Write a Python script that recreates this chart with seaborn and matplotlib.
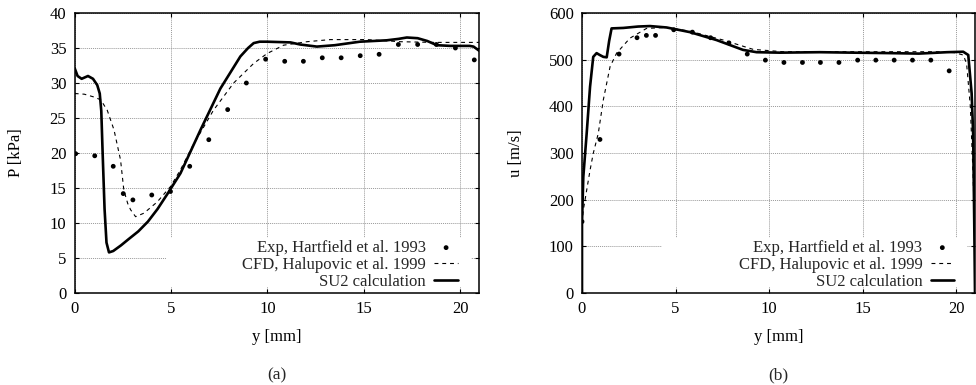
import numpy as np
import pandas as pd
import matplotlib
matplotlib.use("Agg")
import matplotlib.pyplot as plt
from matplotlib.patches import Rectangle
import seaborn as sns

# ---------------- data ----------------
# Panel (a): pressure
exp_p_y = [0.05, 1.04, 2.0, 2.52, 3.02, 4.0, 4.97, 5.97, 6.96, 7.94, 8.91, 9.91,
           10.9, 11.87, 12.85, 13.83, 14.82, 15.8, 16.8, 17.8, 18.77, 19.76, 20.74]
exp_p = [19.9, 19.6, 18.1, 14.2, 13.3, 14.0, 14.5, 18.1, 21.9, 26.2, 30.0, 33.4,
         33.1, 33.1, 33.6, 33.6, 33.9, 34.1, 35.5, 35.5, 35.5, 35.0, 33.3]

cfd_p_y = [0, 0.5, 1.0, 1.35, 1.69, 2.04, 2.38, 2.55, 2.75, 2.9, 3.16, 3.59, 4.28,
           4.97, 5.49, 6.1, 7.2, 8.25, 9.29, 9.98, 10.84, 12.06, 13.26, 15.16,
           16.9, 18.6, 21.0]
cfd_p = [28.5, 28.4, 28.0, 27.6, 26.1, 23.3, 19.0, 14.7, 12.8, 11.9, 10.9, 11.4,
         13.0, 15.2, 17.6, 20.9, 26.1, 30.0, 32.8, 34.2, 35.4, 35.9, 36.2, 36.2,
         35.9, 35.8, 35.8]

su2_p_y = [0, 0.15, 0.36, 0.69, 0.95, 1.17, 1.3, 1.38, 1.45, 1.55, 1.65, 1.78,
           2.0, 2.4, 2.8, 3.3, 3.8, 4.3, 4.8, 5.49, 6.53, 7.56, 8.6, 9.0,
           9.29, 9.6, 9.98, 11.2, 11.7, 12.57, 13.5, 14.8, 16.2, 16.8, 17.24,
           17.8, 18.3, 18.8, 19.5, 20.5, 20.7, 21.0]
su2_p = [32.1, 31.0, 30.6, 31.0, 30.6, 29.7, 28.5, 26.0, 20.0, 12.0, 7.2, 5.8,
         6.0, 6.8, 7.7, 8.8, 10.2, 12.0, 14.1, 17.1, 23.3, 29.2, 33.8, 35.0,
         35.7, 35.9, 35.9, 35.8, 35.5, 35.2, 35.4, 35.9, 36.1, 36.3, 36.5,
         36.4, 36.0, 35.4, 35.3, 35.3, 35.2, 34.6]

# Panel (b): velocity
exp_u_y = [0, 0.96, 1.98, 2.94, 3.44, 3.93, 4.9, 5.9, 6.87, 7.85, 8.83, 9.8,
           10.79, 11.78, 12.74, 13.73, 14.73, 15.7, 16.68, 17.66, 18.64, 19.62]
exp_u = [153, 329, 512, 547, 552, 552, 564, 559, 547, 536, 512, 499,
         494, 494, 494, 494, 499, 499, 499, 499, 499, 476]

cfd_u_y = [0, 0.07, 0.16, 0.43, 0.6, 0.87, 1.14, 1.5, 1.85, 2.56, 3.45, 4.52,
           5.77, 7.55, 9.15, 10.75, 13.0, 16.0, 19.0, 19.9, 20.37, 20.55,
           20.75, 20.9, 21.0]
cfd_u = [150, 178, 199, 263, 299, 342, 414, 485, 514, 546, 567, 569,
         561, 542, 522, 517, 517, 517, 517, 515, 510, 492, 400, 250, 100]

su2_u_y = [0, 0, 0.07, 0.25, 0.43, 0.6, 0.78, 0.95, 1.14, 1.32, 1.45, 1.58,
           2.21, 3.0, 3.63, 4.52, 5.77, 7.19, 8.6, 9.33, 10.58, 12.7, 14.5,
           16.5, 18.0, 19.5, 20.37, 20.64, 20.82, 20.9, 20.96, 21.0]
su2_u = [0, 150, 249, 342, 442, 506, 514, 510, 506, 505, 540, 567,
         568, 571, 572, 569, 559, 542, 521, 516, 515, 516, 515,
         514, 513, 516, 517, 510, 428, 342, 150, 0]

x_ticks = [0, 5, 10, 15, 20]
p_ticks = [0, 5, 10, 15, 20, 25, 30, 35, 40]
u_ticks = [0, 100, 200, 300, 400, 500, 600]

lab_exp = "Exp, Hartfield et al. 1993"
lab_cfd = "CFD, Halupovic et al. 1999"
lab_su2 = "SU2 calculation"

# ---------------- style ----------------
sns.set_theme(style="ticks")
plt.rcParams["font.family"] = ["Liberation Serif", "DejaVu Serif"]
plt.rcParams["font.size"] = 12

fig = plt.figure(figsize=(9.76, 3.85), dpi=100)
ax1 = fig.add_axes([74.7 / 976, 92 / 385, 404.6 / 976, 280 / 385])
ax2 = fig.add_axes([582 / 976, 92 / 385, 393 / 976, 280 / 385])


def draw(ax, ex, ey, cx, cy, sx, sy, ymax, yticks, ylabel, sub, ylab_x, key_x0):
    ax.set_axisbelow(True)
    sns.scatterplot(x=ex, y=ey, ax=ax, color="black", s=12, edgecolor="none",
                    label=lab_exp, zorder=3)
    sns.lineplot(x=cx, y=cy, ax=ax, color="black", lw=0.8,
                 linestyle=(0, (3.5, 3.5)), sort=False, estimator=None,
                 label=lab_cfd, zorder=3)
    sns.lineplot(x=sx, y=sy, ax=ax, color="black", lw=1.9, sort=False,
                 estimator=None, label=lab_su2, zorder=4)
    ax.set_xlim(0, 21)
    ax.set_ylim(0, ymax)
    ax.set_xticks(x_ticks)
    ax.set_yticks(yticks)
    ax.grid(True, color="#999999", linestyle=(0, (1, 1)), lw=0.7)
    for s in ax.spines.values():
        s.set_visible(True)
        s.set_color("black")
        s.set_linewidth(1.1)
    ax.tick_params(direction="in", length=3, width=0.8, top=True, right=True,
                   labelsize=12, colors="black", pad=6)
    ax.set_xlabel("y [mm]", fontsize=12, color="black")
    ax.xaxis.set_label_coords(0.5, -0.13)
    ax.set_ylabel(ylabel, fontsize=12, color="black")
    ax.yaxis.set_label_coords(ylab_x, 0.5)
    ax.text(0.5, -0.295, sub, transform=ax.transAxes, ha="center", va="center",
            fontsize=12.5)
    # key box (covers grid behind legend)
    ax.add_patch(Rectangle((key_x0, 0.02), 0.98 - key_x0, 0.176,
                           transform=ax.transAxes, facecolor="white",
                           edgecolor="none", zorder=1))
    h, l = ax.get_legend_handles_labels()
    order = [l.index(lab_exp), l.index(lab_cfd), l.index(lab_su2)]
    ax.legend([h[i] for i in order], [l[i] for i in order], loc="lower right",
              bbox_to_anchor=(0.955, 0.0), frameon=False, markerfirst=False,
              fontsize=12, handlelength=1.4, handletextpad=0.5,
              labelspacing=0.05, borderpad=0.2, borderaxespad=0.0,
              markerscale=1.0)


draw(ax1, exp_p_y, exp_p, cfd_p_y, cfd_p, su2_p_y, su2_p, 40, p_ticks,
     "P [kPa]", "(a)", -0.125, 0.225)
draw(ax2, exp_u_y, exp_u, cfd_u_y, cfd_u, su2_u_y, su2_u, 600, u_ticks,
     "u [m/s]", "(b)", -0.148, 0.204)

fig.savefig("out.png", dpi=100)
